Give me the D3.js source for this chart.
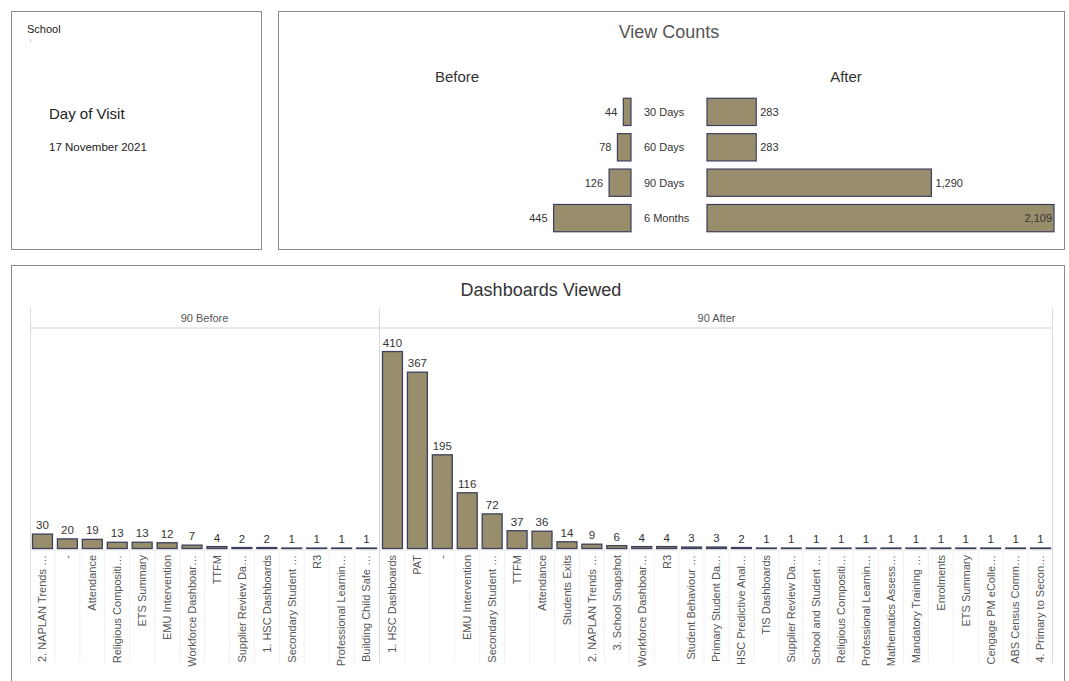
<!DOCTYPE html>
<html>
<head>
<meta charset="utf-8">
<script src="https://cdn.jsdelivr.net/npm/d3@7"></script>
<style>
    body { margin: 0; background: #fff; }
    svg { display: block; font-family: "Liberation Sans", Arial, sans-serif; }
</style>
</head>
<body>
<svg id="dash" width="1069" height="681"></svg>
<script>
// View Counts data
var periods = ["30 Days", "60 Days", "90 Days", "6 Months"];
var beforeCounts = [44, 78, 126, 445];
var afterCounts = [283, 283, 1290, 2109];

// Dashboards Viewed data
var beforeDashboards = ["2. NAPLAN Trends \u2026", "-", "Attendance", "Religious Compositi\u2026", "ETS Summary",
    "EMU Intervention", "Workforce Dashboar\u2026", "TTFM", "Supplier Review Da\u2026", "1. HSC Dashboards",
    "Secondary Student \u2026", "R3", "Professional Learnin\u2026", "Building Child Safe \u2026"];
var beforeViews = [30, 20, 19, 13, 13, 12, 7, 4, 2, 2, 1, 1, 1, 1];

var afterDashboards = ["1. HSC Dashboards", "PAT", "-", "EMU Intervention", "Secondary Student \u2026", "TTFM",
    "Attendance", "Students Exits", "2. NAPLAN Trends \u2026", "3. School Snapshot", "Workforce Dashboar\u2026", "R3",
    "Student Behaviour \u2026", "Primary Student Da\u2026", "HSC Predictive Anal\u2026", "TIS Dashboards",
    "Supplier Review Da\u2026", "School and Student \u2026", "Religious Compositi\u2026", "Professional Learnin\u2026",
    "Mathematics Assess\u2026", "Mandatory Training \u2026", "Enrolments", "ETS Summary", "Cengage PM eColle\u2026",
    "ABS Census Comm\u2026", "4. Primary to Secon\u2026"];
var afterViews = [410, 367, 195, 116, 72, 37, 36, 14, 9, 6, 4, 4, 3, 3, 2, 1, 1, 1, 1, 1, 1, 1, 1, 1, 1, 1, 1];

var barFill = "#988e6b",
    barStroke = "#3d3f5e",
    textDark = "#333",
    textGrey = "#555";

var svg = d3.select("#dash");

// panel frames
svg.append("rect").attr("x", 11.5).attr("y", 11.5).attr("width", 250).attr("height", 238)
    .attr("fill", "none").attr("stroke", "#8a8a8a");
svg.append("rect").attr("x", 278.5).attr("y", 11.5).attr("width", 786).attr("height", 238)
    .attr("fill", "none").attr("stroke", "#8a8a8a");
svg.append("rect").attr("x", 11.5).attr("y", 265.5).attr("width", 1053).attr("height", 430)
    .attr("fill", "none").attr("stroke", "#8a8a8a");

/**
  * Left panel: school and visit date.
  */
function drawInfo() {
    svg.append("text").attr("x", 27).attr("y", 33).attr("font-size", 11).attr("fill", "#222").text("School");
    svg.append("line").attr("x1", 30.5).attr("x2", 30.5).attr("y1", 39).attr("y2", 42).attr("stroke", "#ccc");
    svg.append("text").attr("x", 49).attr("y", 119).attr("font-size", 15).attr("fill", "#222").text("Day of Visit");
    svg.append("text").attr("x", 49).attr("y", 151).attr("font-size", 11.5).attr("fill", "#222").text("17 November 2021");
}

/**
  * View Counts: mirrored bars, Before to the left, After to the right.
  */
function drawViewCounts() {
    var g = svg.append("g"),
        y = d3.scaleBand().domain(periods).range([94, 236]).paddingInner(0.23).paddingOuter(0.12),
        // shared scale, long bars are clipped at the pane edge
        x = d3.scaleLinear().domain([0, 1995]).range([0, 347]).clamp(true),
        beforeRight = 631,
        afterLeft = 707;

    g.append("text").attr("x", 669).attr("y", 38).attr("text-anchor", "middle")
        .attr("font-size", 18).attr("fill", textGrey).text("View Counts");
    g.append("text").attr("x", 457).attr("y", 82).attr("text-anchor", "middle")
        .attr("font-size", 15).attr("fill", "#333").text("Before");
    g.append("text").attr("x", 846).attr("y", 82).attr("text-anchor", "middle")
        .attr("font-size", 15).attr("fill", "#333").text("After");

    g.selectAll("rect.before").data(beforeCounts).enter().append("rect")
        .attr("class", "before")
        .attr("x", function (d) { return beforeRight - x(d); })
        .attr("y", function (d, i) { return y(periods[i]); })
        .attr("width", function (d) { return x(d); })
        .attr("height", y.bandwidth())
        .attr("fill", barFill).attr("stroke", barStroke).attr("stroke-width", 1.2);

    g.selectAll("text.before").data(beforeCounts).enter().append("text")
        .attr("class", "before")
        .attr("x", function (d) { return beforeRight - x(d) - 6; })
        .attr("y", function (d, i) { return y(periods[i]) + y.bandwidth() / 2; })
        .attr("dy", "0.35em").attr("text-anchor", "end")
        .attr("font-size", 11).attr("fill", textDark)
        .text(d3.format(","));

    g.selectAll("text.period").data(periods).enter().append("text")
        .attr("class", "period")
        .attr("x", 644)
        .attr("y", function (d) { return y(d) + y.bandwidth() / 2; })
        .attr("dy", "0.35em").attr("font-size", 11).attr("fill", textDark)
        .text(function (d) { return d; });

    g.selectAll("rect.after").data(afterCounts).enter().append("rect")
        .attr("class", "after")
        .attr("x", afterLeft)
        .attr("y", function (d, i) { return y(periods[i]); })
        .attr("width", function (d) { return x(d); })
        .attr("height", y.bandwidth())
        .attr("fill", barFill).attr("stroke", barStroke).attr("stroke-width", 1.2);

    g.selectAll("text.after").data(afterCounts).enter().append("text")
        .attr("class", "after")
        .attr("x", function (d) {
            // label goes inside when the bar is clipped
            return d > x.domain()[1] ? afterLeft + x(d) - 2 : afterLeft + x(d) + 4;
        })
        .attr("y", function (d, i) { return y(periods[i]) + y.bandwidth() / 2; })
        .attr("dy", "0.35em")
        .attr("text-anchor", function (d) { return d > x.domain()[1] ? "end" : "start"; })
        .attr("font-size", 11).attr("fill", textDark)
        .text(d3.format(","));
}

/**
  * Draw one pane of the Dashboards Viewed chart.
  */
function drawPane(names, values, x0, x1, header, y) {
    var g = svg.append("g"),
        x = d3.scaleBand().domain(names.map(function (d, i) { return i; }))
            .range([x0, x1]).paddingInner(0.2).paddingOuter(0.1);

    // header strip
    g.append("text").attr("x", (x0 + x1) / 2).attr("y", 322).attr("text-anchor", "middle")
        .attr("font-size", 11).attr("fill", textGrey).text(header);
    g.append("line").attr("x1", x0).attr("x2", x1).attr("y1", 328).attr("y2", 328)
        .attr("stroke", "#e8e8e8").attr("stroke-width", 2);

    // label separators
    g.selectAll("line.sep").data(d3.range(1, names.length)).enter().append("line")
        .attr("class", "sep")
        .attr("x1", function (i) { return x(i) - x.step() * x.paddingInner() / 2; })
        .attr("x2", function (i) { return x(i) - x.step() * x.paddingInner() / 2; })
        .attr("y1", 551).attr("y2", 663)
        .attr("stroke", "#f0f0f0");

    g.selectAll("rect.bar").data(values).enter().append("rect")
        .attr("class", "bar")
        .attr("x", function (d, i) { return x(i); })
        .attr("y", function (d) { return y(d); })
        .attr("width", x.bandwidth())
        .attr("height", function (d) { return y(0) - y(d); })
        .attr("fill", barFill).attr("stroke", barStroke).attr("stroke-width", 1.3);

    g.selectAll("text.val").data(values).enter().append("text")
        .attr("class", "val")
        .attr("x", function (d, i) { return x(i) + x.bandwidth() / 2; })
        .attr("y", function (d) { return y(d) - 5; })
        .attr("text-anchor", "middle").attr("font-size", 11.5).attr("fill", textDark)
        .text(function (d) { return d; });

    g.selectAll("text.name").data(names).enter().append("text")
        .attr("class", "name")
        .attr("transform", function (d, i) {
            return "translate(" + (x(i) + x.bandwidth() / 2) + ",555) rotate(-90)";
        })
        .attr("dy", "0.35em").attr("text-anchor", "end")
        .attr("font-size", 11).attr("fill", textGrey)
        .text(function (d) { return d; });
}

/**
  * Dashboards Viewed: two panes sharing one value axis.
  */
function drawDashboards() {
    var y = d3.scaleLinear().domain([0, 459]).range([548.5, 328]);

    svg.append("text").attr("x", 541).attr("y", 296).attr("text-anchor", "middle")
        .attr("font-size", 18).attr("fill", "#333").text("Dashboards Viewed");

    svg.append("line").attr("x1", 30).attr("x2", 1053).attr("y1", 550).attr("y2", 550)
        .attr("stroke", "#e4e4e4");

    drawPane(beforeDashboards, beforeViews, 30, 379, "90 Before", y);
    drawPane(afterDashboards, afterViews, 380, 1053, "90 After", y);

    [30.5, 379.5, 1052.5].forEach(function (xPos) {
        svg.append("line").attr("x1", xPos).attr("x2", xPos).attr("y1", 308).attr("y2", 663)
            .attr("stroke", "#dcdcdc");
    });
}

drawInfo();
drawViewCounts();
drawDashboards();
</script>
</body>
</html>
